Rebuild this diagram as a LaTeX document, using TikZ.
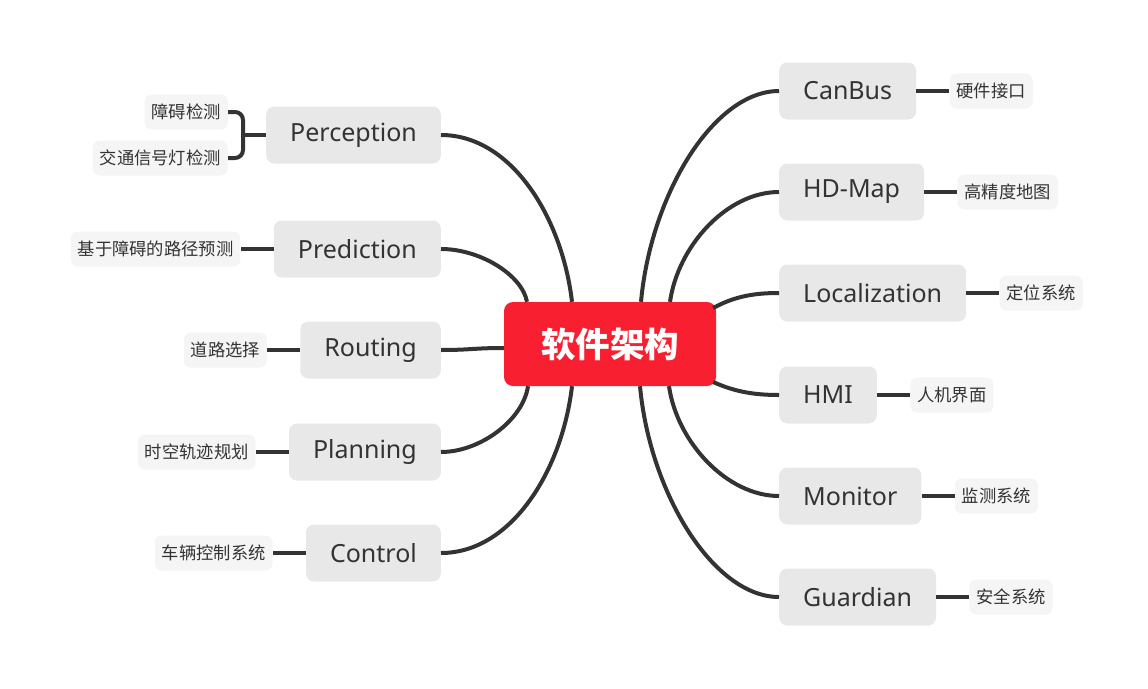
\documentclass[tikz,border=0pt]{standalone}
\usepackage{fontspec}
\setmainfont{Noto Sans}
\newfontfamily\cjk{Noto Sans CJK SC}
\usetikzlibrary{positioning}
\usetikzlibrary{calc}
\definecolor{rootred}{HTML}{F82030}
\definecolor{topicgray}{HTML}{E8E8E8}
\definecolor{leafgray}{HTML}{F5F5F5}
\definecolor{linegray}{HTML}{333333}

\begin{document}
\begin{tikzpicture}[x=1pt, y=-1pt,
        topic/.style={rectangle, rounded corners=8pt, fill=topicgray, text=linegray, minimum height=57pt, inner xsep=24pt, font=\fontsize{25pt}{30pt}\selectfont},
        leaf/.style={rectangle, rounded corners=7pt, fill=leafgray, text=linegray, minimum height=35pt, inner xsep=7pt, font=\cjk\fontsize{17.3pt}{20pt}\selectfont},
        branch/.style={line width=4pt, draw=linegray}]
        \useasboundingbox (0,0) rectangle (1148,688);
        \node[rectangle, rounded corners=9pt, fill=rootred, text=white, minimum width=212pt, minimum height=84pt, font=\cjk\bfseries\fontsize{34.5pt}{40pt}\selectfont](root) at (610,344) {软件架构};
        % left side
        \node[topic, anchor=east](perception) at (441,135) {Perception};
        \node[topic, anchor=east](prediction) at (441,249) {Prediction};
        \node[topic, anchor=east](routing) at (441,350) {Routing};
        \node[topic, anchor=east](planning) at (441,452) {Planning};
        \node[topic, anchor=east](control) at (441,553) {Control};
        \node[leaf, anchor=east](obstacle) at (228,112) {障碍检测};
        \node[leaf, anchor=east](trafficlight) at (228,158) {交通信号灯检测};
        \node[leaf, left = 33pt of prediction](predleaf) {基于障碍的路径预测};
        \node[leaf, left = 33pt of routing](routeleaf) {道路选择};
        \node[leaf, left = 33pt of planning](planleaf) {时空轨迹规划};
        \node[leaf, left = 33pt of control](controlleaf) {车辆控制系统};
        % right side
        \node[topic, anchor=west](canbus) at (779,91) {CanBus};
        \node[topic, anchor=west](hdmap) at (779,192) {HD-Map};
        \node[topic, anchor=west](localization) at (779,293) {Localization};
        \node[topic, anchor=west](hmi) at (779,395) {HMI};
        \node[topic, anchor=west](monitor) at (779,496) {Monitor};
        \node[topic, anchor=west](guardian) at (779,597) {Guardian};
        \node[leaf, right = 33pt of canbus](canbusleaf) {硬件接口};
        \node[leaf, right = 33pt of hdmap](hdmapleaf) {高精度地图};
        \node[leaf, right = 33pt of localization](locleaf) {定位系统};
        \node[leaf, right = 33pt of hmi](hmileaf) {人机界面};
        \node[leaf, right = 33pt of monitor](monitorleaf) {监测系统};
        \node[leaf, right = 33pt of guardian](guardianleaf) {安全系统};
        % branches from the root
        \draw[branch] ([xshift=-38pt]root.north) .. controls +(-10,-85) and +(70,0) .. (perception.east);
        \draw[branch] ([xshift=-83pt]root.north) .. controls +(-5,-27) and +(39,0) .. (prediction.east);
        \draw[branch] ([yshift=-4pt]root.west) .. controls +(-30,0) and +(30,0) .. (routing.east);
        \draw[branch] ([xshift=-82pt]root.south) .. controls +(-5,34) and +(39,0) .. (planning.east);
        \draw[branch] ([xshift=-38pt]root.south) .. controls +(-10,85) and +(70,0) .. (control.east);
        \draw[branch] ([xshift=31pt]root.north) .. controls +(10,-108) and +(-65,0) .. (canbus.west);
        \draw[branch] ([xshift=60pt]root.north) .. controls +(8,-56) and +(-52,0) .. (hdmap.west);
        \draw[branch] ([xshift=-3pt, yshift=36pt]root.east) .. controls +(22,-12) and +(-24,0) .. (localization.west);
        \draw[branch] ([xshift=-3pt, yshift=-38pt]root.east) .. controls +(22,10) and +(-24,0) .. (hmi.west);
        \draw[branch] ([xshift=59pt]root.south) .. controls +(8,56) and +(-52,0) .. (monitor.west);
        \draw[branch] ([xshift=30pt]root.south) .. controls +(10,108) and +(-65,0) .. (guardian.west);
        % leaves
        \coordinate (brace) at (243,135);
        \draw[branch, rounded corners=8pt] (obstacle.east) -| (brace) |- (trafficlight.east);
        \draw[branch] (brace) -- (perception.west);
        \draw[branch] (prediction) -- (predleaf);
        \draw[branch] (routing) -- (routeleaf);
        \draw[branch] (planning) -- (planleaf);
        \draw[branch] (control) -- (controlleaf);
        \draw[branch] (canbus) -- (canbusleaf);
        \draw[branch] (hdmap) -- (hdmapleaf);
        \draw[branch] (localization) -- (locleaf);
        \draw[branch] (hmi) -- (hmileaf);
        \draw[branch] (monitor) -- (monitorleaf);
        \draw[branch] (guardian) -- (guardianleaf);
\end{tikzpicture}
\end{document}
